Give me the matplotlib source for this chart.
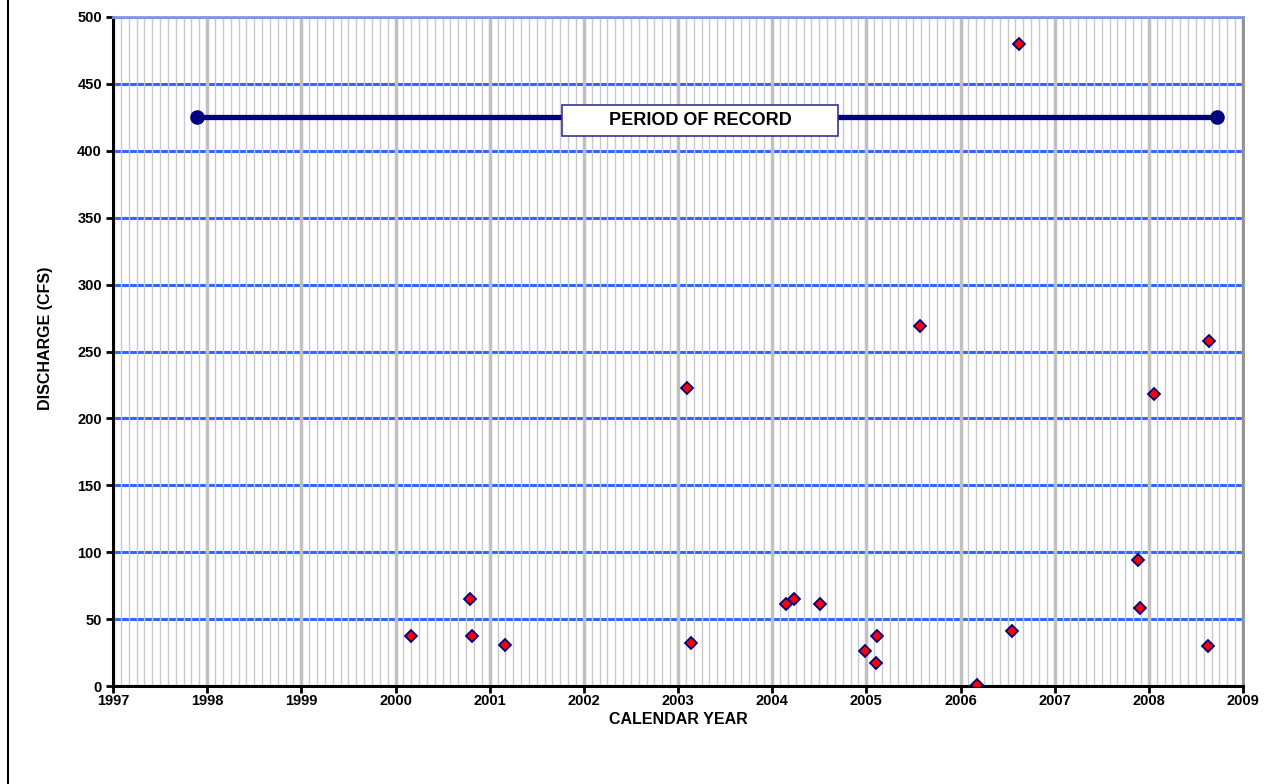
import numpy as np
import matplotlib
matplotlib.use('Agg')
import matplotlib.pyplot as plt
from matplotlib.lines import Line2D

plt.rcParams['font.family'] = ['Liberation Sans', 'DejaVu Sans']

# measured discharge (decimal calendar year, cfs)
years = [2000.16, 2000.79, 2000.81, 2001.16, 2003.10, 2003.14, 2004.15, 2004.23,
         2004.51, 2004.99, 2005.10, 2005.115, 2005.57, 2006.17, 2006.55, 2006.62,
         2007.89, 2007.91, 2008.05, 2008.63, 2008.64]
discharge = [37, 65, 37, 31, 223, 32, 61, 65, 61, 26, 17, 37, 269, 1, 41, 480,
             94, 58, 218, 30, 258]

# period of record bar
record_span = [1997.89, 2008.72]
record_level = 425

x_ticks = list(range(1997, 2010))
y_ticks = list(range(0, 501, 50))

fig = plt.figure(figsize=(12.75, 7.84), dpi=100)
ax = fig.add_axes([113 / 1275, 1 - 686 / 784, 1130 / 1275, 669 / 784])

ax.set_xlim(1997, 2009)
ax.set_ylim(0, 500)
ax.set_xticks(x_ticks)
ax.set_xticks(np.arange(1997, 2009, 1 / 12), minor=True)
ax.set_yticks(y_ticks)

ax.set_axisbelow(True)
ax.yaxis.set_zorder(0.3)
ax.xaxis.set_zorder(0.4)
ax.grid(axis='y', which='major', color='#3366ff', linewidth=2.2)
ax.grid(axis='x', which='minor', color='#c8c8c8', linewidth=1.0)
ax.grid(axis='x', which='major', color='#c0c0c0', linewidth=2.5)

ax.plot(record_span, [record_level, record_level], color='#000080', linewidth=3.8,
        marker='o', markersize=9.5, zorder=3)
ax.text(np.mean(record_span) - 0.07, record_level - 2.5, '        PERIOD OF RECORD        ',
        ha='center', va='center', fontsize=13, fontweight='bold', zorder=4,
        bbox=dict(boxstyle='square,pad=0.38', facecolor='white', edgecolor='#333399',
                  linewidth=1.2))

ax.plot(years, discharge, linestyle='none', marker='D', markersize=5.8,
        markerfacecolor='red', markeredgecolor='#000080', markeredgewidth=1.3, zorder=5)

for side in ['left', 'bottom']:
    ax.spines[side].set_color('black')
    ax.spines[side].set_linewidth(2.2)
ax.spines['top'].set_color('#7f99dd')
ax.spines['top'].set_linewidth(2)
ax.spines['right'].set_color('#909090')
ax.spines['right'].set_linewidth(2)

ax.tick_params(axis='both', which='major', direction='out', length=5, width=2,
               labelsize=10.5)
ax.tick_params(axis='x', which='major', pad=0.5)
ax.tick_params(axis='y', which='major', pad=3)
ax.tick_params(axis='x', which='minor', length=0)
for lbl in ax.get_xticklabels() + ax.get_yticklabels():
    lbl.set_fontweight('bold')

ax.set_xlabel('CALENDAR YEAR', fontsize=11.5, fontweight='bold', labelpad=3)
ax.set_ylabel('DISCHARGE (CFS)', fontsize=11.5, fontweight='bold')
ax.yaxis.set_label_coords(-0.053, 0.52)

fig.add_artist(Line2D([8 / 1275, 8 / 1275], [0, 1], color='black', linewidth=1.5,
                      transform=fig.transFigure))

fig.savefig('out.png', dpi=100)
